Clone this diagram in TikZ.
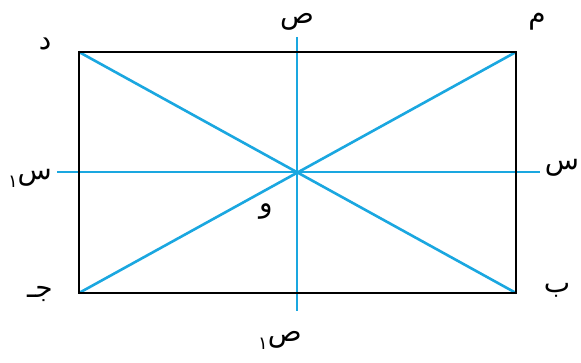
\documentclass[tikz,border=0pt]{standalone}
\usepackage{fontspec}
\newfontfamily\arabicfont[Script=Arabic]{DejaVu Sans}
\TeXXeTstate=1
\definecolor{axisblue}{HTML}{1AA7E0}
\begin{document}
\begin{tikzpicture}[x=1pt,y=-1pt,
  frame/.style={black,line width=2.6pt},
  bline/.style={axisblue,line width=2.6pt},
  lbl/.style={inner sep=0pt,font=\arabicfont\fontsize{28}{32}\selectfont}]
\useasboundingbox (0,0) rectangle (581,363);
\fill[white] (0,0) rectangle (581,363);
\coordinate (D) at (79,52);
\coordinate (A) at (516,52);
\coordinate (C) at (79,293);
\coordinate (B) at (516,293);
\coordinate (O) at (297,172);
\coordinate (Yt) at (297,37);
\coordinate (Yb) at (297,311);
\coordinate (Xl) at (57,172);
\coordinate (Xr) at (540,172);
\draw[bline] (Yt) -- (Yb);
\draw[bline] (Xl) -- (Xr);
\draw[bline] (D) -- (B);
\draw[bline] (C) -- (A);
\draw[frame] (D) -- (A) -- (B) -- (C) -- cycle;
\node[lbl] (la) at (537,22) {\beginR م\endR};
\node[lbl] (ld) at (45,44) {\beginR د\endR};
\node[lbl] (lc) at (40,294) {\beginR جـ\endR};
\node[lbl] (lb) at (557,290) {\beginR ب\endR};
\node[lbl] (lo) at (266,212) {\beginR و\endR};
\node[lbl] (lyt) at (297,22) {\beginR ص\endR};
\node[lbl] (lxr) at (562,168) {\beginR س\endR};
\node[lbl] (lxl) at (30,178) {\beginR س\raisebox{-8pt}{\fontsize{18}{20}\selectfont ١}\endR};
\node[lbl] (lyb) at (280,340) {\beginR ص\raisebox{-8pt}{\fontsize{18}{20}\selectfont ١}\endR};
\end{tikzpicture}
\end{document}
